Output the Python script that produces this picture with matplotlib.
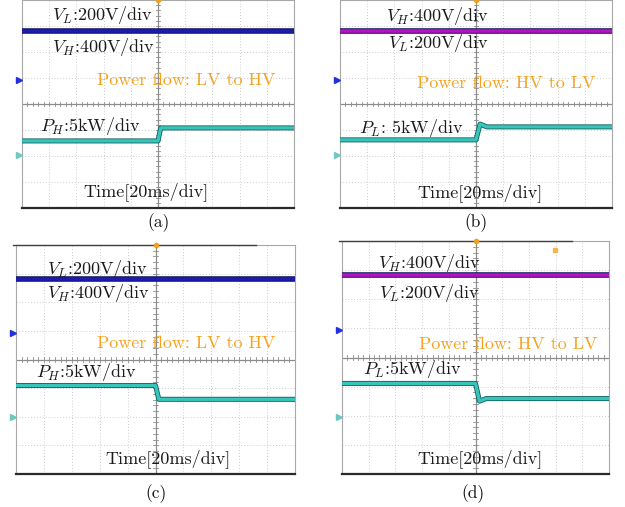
import matplotlib
matplotlib.use("Agg")
import matplotlib.pyplot as plt

plt.rcParams['font.family'] = ['cmr10', 'DejaVu Serif']
plt.rcParams['mathtext.fontset'] = 'cm'
plt.rcParams['axes.formatter.use_mathtext'] = True

# Scope captures, all positions in divisions (10 x 8 screen, centre at 0,0)
captions = ['(a)', '(b)', '(c)', '(d)']
flow_text = ['Power flow: LV to HV', 'Power flow: HV to LV',
             'Power flow: LV to HV', 'Power flow: HV to LV']
upper_label = [r'$V_L$:200V/div', r'$V_H$:400V/div', r'$V_L$:200V/div', r'$V_H$:400V/div']
lower_label = [r'$V_H$:400V/div', r'$V_L$:200V/div', r'$V_H$:400V/div', r'$V_L$:200V/div']
power_label = [r'$P_H$:5kW/div', r'$P_L$: 5kW/div', r'$P_H$:5kW/div', r'$P_L$:5kW/div']
time_label = 'Time[20ms/div]'

# DC bus voltage traces (both channels overlap)
volt_level = [2.80, 2.80, 2.82, 2.82]
volt_color = ['#1c1cae', '#b414c0', '#1c1cae', '#b414c0']

# Power step traces
power_t = [[-5, 0.0, 0.10, 5],
           [-5, 0.0, 0.15, 0.40, 5],
           [-5, 0.0, 0.12, 5],
           [-5, 0.0, 0.15, 0.40, 5]]
power_v = [[-1.42, -1.42, -0.92, -0.92],
           [-1.38, -1.38, -0.77, -0.88, -0.88],
           [-0.91, -0.91, -1.39, -1.39],
           [-0.89, -0.89, -1.50, -1.41, -1.41]]

# channel ground markers on the left edge
ch_blue_level = [0.92, 0.92, 0.94, 0.96]
ch_teal_level = [-1.96, -1.96, -2.02, -2.06]

# text positions (left x, centre y) in divisions
upper_pos = [(-3.90, 3.42), (-3.31, 3.38), (-3.90, 3.17), (-3.67, 3.26)]
lower_pos = [(-3.90, 2.19), (-3.24, 2.35), (-3.90, 2.33), (-3.60, 2.23)]
flow_pos = [(-2.24, 0.92), (-2.17, 0.80), (-2.11, 0.56), (-2.13, 0.45)]
power_pos = [(-4.34, -0.85), (-4.30, -0.92), (-4.27, -0.45), (-4.23, -0.38)]
time_pos = [(-2.76, -3.38), (-2.17, -3.42), (-1.79, -3.45), (-2.17, -3.47)]

W, H = 625, 507
# axes boxes in pixels: left, top, right, bottom
boxes = [(22, 0, 294, 208), (340, 0, 612, 208),
         (16, 245, 295, 474), (342, 241, 609, 474)]
caption_xy = [(159, 223), (476, 223), (156, 494), (473, 494)]

fig = plt.figure(figsize=(W / 100, H / 100), dpi=100)

for i, (l, t, r, b) in enumerate(boxes):
    ax = fig.add_axes([l / W, 1 - b / H, (r - l) / W, (b - t) / H])
    ax.set_xlim(-5, 5)
    ax.set_ylim(-4, 4)
    ax.set_xticks([])
    ax.set_yticks([])

    # dotted graticule
    for gx in range(-4, 5):
        if gx != 0:
            ax.axvline(gx, color='#bcbcbc', lw=0.6, ls=(0, (1, 2.5)), zorder=1)
    for gy in range(-3, 4):
        if gy != 0:
            ax.axhline(gy, color='#bcbcbc', lw=0.6, ls=(0, (1, 2.5)), zorder=1)
    ax.axvline(0, color='#8c8c8c', lw=0.9, zorder=1)
    ax.axhline(0, color='#8c8c8c', lw=0.9, zorder=1)
    # minor ticks along the centre lines
    for k in range(-25, 26):
        x = k * 0.2
        ax.plot([x, x], [-0.07, 0.07], color='#8c8c8c', lw=0.6, zorder=1)
    for k in range(-20, 21):
        y = k * 0.2
        ax.plot([-0.09, 0.09], [y, y], color='#8c8c8c', lw=0.6, zorder=1)

    for s in ['left', 'right', 'top']:
        ax.spines[s].set_color('#a8a8a8')
        ax.spines[s].set_linewidth(0.8)
    ax.spines['bottom'].set_color('#2a2a2a')
    ax.spines['bottom'].set_linewidth(1.6)
    if i >= 2:
        ax.plot([-5.1, 3.6], [4, 4], color='#404040', lw=1.0, clip_on=False, zorder=3)

    # voltage trace
    ax.plot([-5, 5], [volt_level[i], volt_level[i]], color='#101060', lw=4.0,
            solid_capstyle='butt', zorder=3)
    ax.plot([-5, 5], [volt_level[i], volt_level[i]], color=volt_color[i], lw=2.6,
            solid_capstyle='butt', zorder=4)

    # power trace
    ax.plot(power_t[i], power_v[i], color='#0d5f5a', lw=3.6,
            solid_capstyle='butt', zorder=3)
    ax.plot(power_t[i], power_v[i], color='#38c4bb', lw=2.4,
            solid_capstyle='butt', zorder=4)

    # trigger and channel markers
    ax.plot(0, 4, marker='o', ms=3, color='#f0a020', clip_on=False, zorder=5)
    ax.plot(-5.12, ch_blue_level[i], marker='>', ms=5, color='#2230e0',
            clip_on=False, zorder=5)
    ax.plot(-5.12, ch_teal_level[i], marker='>', ms=5, color='#70c8c0',
            clip_on=False, zorder=5)
    if i == 3:
        ax.plot(2.96, 3.68, marker='s', ms=3.5, color='#f7b64a', zorder=5)

    fs = 13
    ax.text(*upper_pos[i], upper_label[i], fontsize=fs, va='center', ha='left',
            color='#1a1a1a', zorder=6)
    ax.text(*lower_pos[i], lower_label[i], fontsize=fs, va='center', ha='left',
            color='#1a1a1a', zorder=6)
    ax.text(*flow_pos[i], flow_text[i], fontsize=fs, va='center', ha='left',
            color='#f5a21e', zorder=6)
    ax.text(*power_pos[i], power_label[i], fontsize=fs, va='center', ha='left',
            color='#1a1a1a', zorder=6)
    ax.text(*time_pos[i], time_label, fontsize=fs, va='center', ha='left',
            color='#1a1a1a', zorder=6)

    cx, cy = caption_xy[i]
    fig.text(cx / W, 1 - cy / H, captions[i], fontsize=12.5, ha='center',
             va='center', color='#111111')

fig.savefig('out.png', dpi=100)
